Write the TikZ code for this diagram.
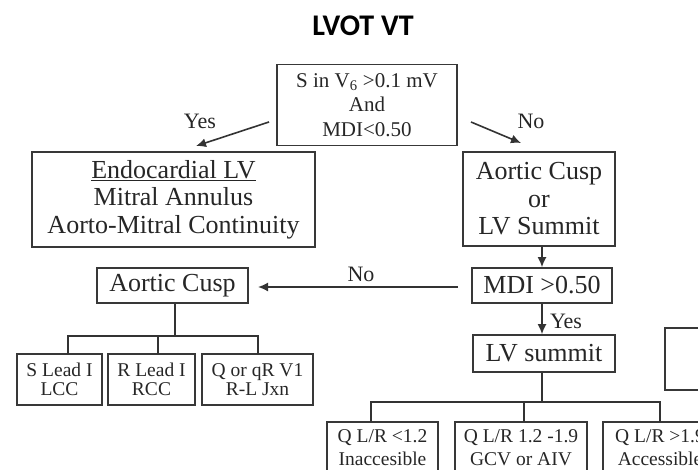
\documentclass[tikz,border=0pt]{standalone}
\usepackage{fontspec}
\setmainfont{Liberation Serif}
\newfontfamily\titlefont{Carlito}
\usetikzlibrary{arrows.meta}
\begin{document}
\begin{tikzpicture}[x=1pt,y=-1pt,
  box/.style={draw=black!78, line width=1.6pt, inner sep=0pt, align=center, text=black!85},
  big/.style={font=\fontsize{26}{27.5}\selectfont},
  mid/.style={font=\fontsize{21}{24.5}\selectfont},
  smallA/.style={font=\fontsize{19.5}{19.5}\selectfont},
  smallB/.style={font=\fontsize{19.5}{23}\selectfont},
  conn/.style={draw=black!80, line width=1.6pt},
  arr/.style={conn, -{Latex[length=10pt,width=9pt]}},
  lbl/.style={font=\fontsize{22}{24}\selectfont, text=black!85, inner sep=0pt}]
\useasboundingbox (0,0) rectangle (698,470);
\clip (0,0) rectangle (698,470);

\node (title) at (363,26) {\titlefont\bfseries\fontsize{30}{30}\selectfont LVOT VT};

\node[box, mid, minimum width=180pt, minimum height=81pt] (top) at (367,105)
  {S in V\textsubscript{6} >0.1 mV\\And\\MDI<0.50};
\node[box, big, minimum width=283pt, minimum height=95pt] (endo) at (173.5,199.5)
  {\underline{Endocardial LV}\\Mitral Annulus\\Aorto-Mitral Continuity};
\node[box, big, minimum width=152pt, minimum height=94pt] (acls) at (539,199)
  {Aortic Cusp\\or\\LV Summit};
\node[box, big, minimum width=140pt, minimum height=35pt] (mdi) at (542,285.5) {MDI >0.50};
\node[box, big, minimum width=142pt, minimum height=37pt] (lvs) at (544,353.5) {LV summit};
\node[box, big, minimum width=151pt, minimum height=35pt] (ac) at (172.5,285.5) {Aortic Cusp};

\node[box, smallA, minimum width=85pt, minimum height=51pt] (s1) at (59.5,379.5) {S Lead I\\LCC};
\node[box, smallA, minimum width=87pt, minimum height=51pt] (s2) at (151.5,379.5) {R Lead I\\RCC};
\node[box, smallA, minimum width=111pt, minimum height=51pt] (s3) at (257.5,379.5) {Q or qR V1\\R-L Jxn};

\node[box, smallB, minimum width=111pt, minimum height=52pt] (b1) at (382.5,448) {Q L/R <1.2\\Inaccesible};
\node[box, smallB, minimum width=132pt, minimum height=52pt] (b2) at (521,448) {Q L/R 1.2 -1.9\\GCV or AIV};
\node[box, smallB, minimum width=114pt, minimum height=52pt] (b3) at (660,448) {Q L/R >1.9\\Accessible};

\node[box, minimum width=110pt, minimum height=62pt] (rbox) at (720,359) {};

% Yes / No from the top box
\coordinate (yesA) at (269,122);
\coordinate (yesB) at (196,146);
\coordinate (noA) at (471,122);
\coordinate (noB) at (521,143);
\draw[arr] (yesA) -- (yesB);
\draw[arr] (noA) -- (noB);
\node[lbl] (yeslbl) at (200,121) {Yes};
\node[lbl] (nolbl) at (531,121) {No};

% vertical chain
\draw[arr] (acls.south -| mdi) -- (mdi.north);
\draw[arr] (mdi.south) -- (lvs.north -| mdi);
\node[lbl] (yes2) at (566,321) {Yes};

% No to aortic cusp
\coordinate (noC) at (458,287);
\coordinate (noD) at (258,287);
\draw[arr] (noC) -- (noD);
\node[lbl] (no2) at (361,274) {No};

% aortic cusp tree
\coordinate (acbar) at (175,336);
\draw[conn] (ac.south -| acbar) -- (acbar);
\draw[conn] (68,354) |- (acbar) -| (258,354);
\draw[conn] (158,336) -- (158,354);

% LV summit tree
\coordinate (lvbar) at (542,402);
\draw[conn] (lvs.south -| lvbar) -- (lvbar);
\draw[conn] (371,422) |- (lvbar) -| (660,422);
\draw[conn] (524,402) -- (524,422);
\end{tikzpicture}
\end{document}
